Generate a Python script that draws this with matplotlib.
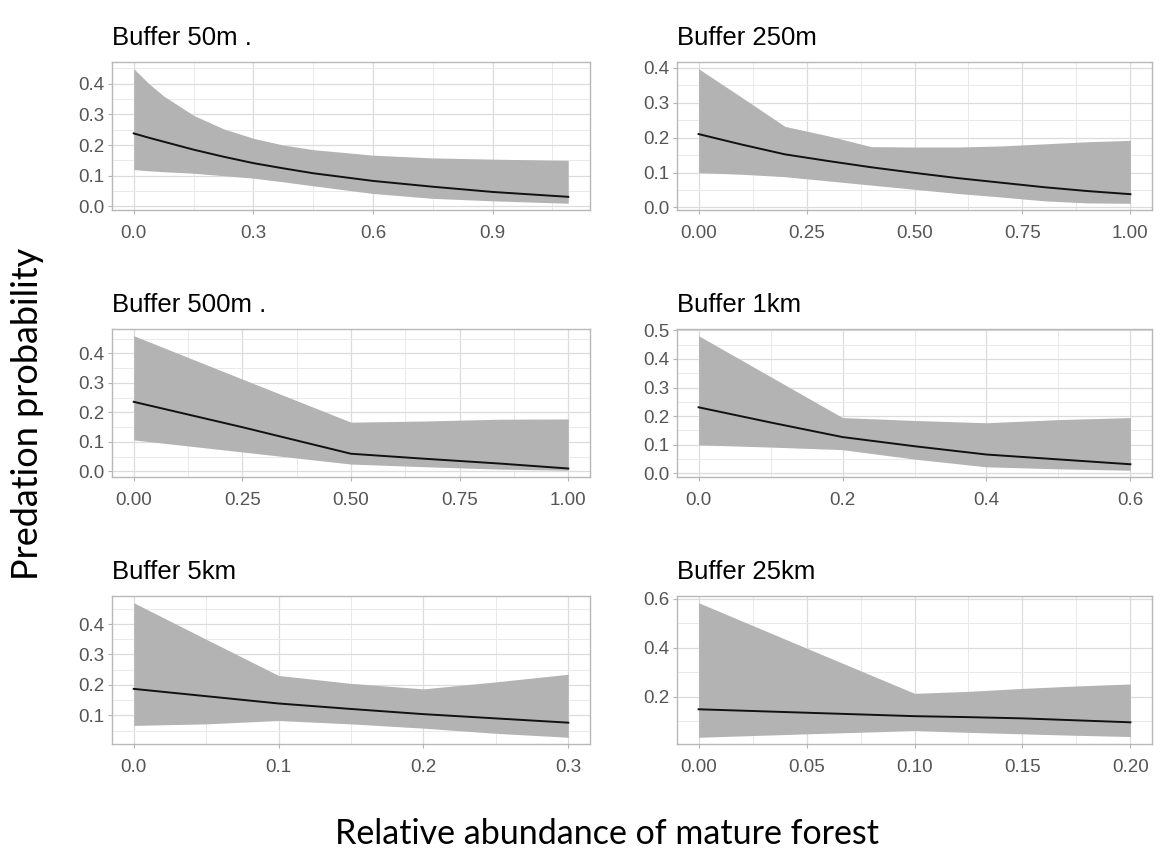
import numpy as np
import matplotlib
matplotlib.use("Agg")
import matplotlib.pyplot as plt
from matplotlib.ticker import MultipleLocator, FormatStrFormatter

# Buffer 50m
x_50m = [0.0, 0.0375, 0.075, 0.15, 0.225, 0.3, 0.375, 0.45, 0.6, 0.75, 0.9, 1.09]
hi_50m = [0.449, 0.401, 0.36, 0.297, 0.253, 0.222, 0.2, 0.185, 0.167, 0.158, 0.154, 0.15]
mean_50m = [0.238, 0.224, 0.211, 0.185, 0.162, 0.141, 0.124, 0.108, 0.083, 0.064, 0.047, 0.031]
lo_50m = [0.12, 0.116, 0.113, 0.108, 0.100, 0.092, 0.08, 0.067, 0.042, 0.026, 0.018, 0.01]

# Buffer 250m
x_250m = [0.0, 0.1, 0.2, 0.3, 0.4, 0.5, 0.6, 0.7, 0.8, 0.9, 1.0]
hi_250m = [0.397, 0.315, 0.232, 0.205, 0.174, 0.173, 0.173, 0.176, 0.182, 0.188, 0.192]
mean_250m = [0.21, 0.18, 0.152, 0.133, 0.115, 0.099, 0.084, 0.071, 0.058, 0.047, 0.038]
lo_250m = [0.10, 0.095, 0.088, 0.076, 0.064, 0.052, 0.04, 0.03, 0.019, 0.013, 0.012]

# Buffer 500m
x_500m = [0.0, 0.25, 0.5, 0.67, 0.84, 1.0]
hi_500m = [0.46, 0.313, 0.167, 0.171, 0.177, 0.178]
mean_500m = [0.236, 0.15, 0.06, 0.043, 0.027, 0.01]
lo_500m = [0.107, 0.066, 0.025, 0.016, 0.008, 0.004]

# Buffer 1km
x_1km = [0.0, 0.1, 0.2, 0.3, 0.4, 0.5, 0.6]
hi_1km = [0.481, 0.338, 0.195, 0.185, 0.177, 0.188, 0.195]
mean_1km = [0.231, 0.178, 0.127, 0.095, 0.066, 0.049, 0.032]
lo_1km = [0.10, 0.092, 0.083, 0.05, 0.023, 0.016, 0.011]

# Buffer 5km
x_5km = [0.0, 0.05, 0.1, 0.15, 0.2, 0.25, 0.3]
hi_5km = [0.47, 0.35, 0.231, 0.205, 0.187, 0.21, 0.235]
mean_5km = [0.187, 0.163, 0.139, 0.121, 0.104, 0.09, 0.076]
lo_5km = [0.067, 0.072, 0.083, 0.072, 0.058, 0.041, 0.028]

# Buffer 25km
x_25km = [0.0, 0.05, 0.1, 0.125, 0.15, 0.175, 0.2]
hi_25km = [0.583, 0.398, 0.214, 0.222, 0.234, 0.244, 0.252]
mean_25km = [0.149, 0.135, 0.121, 0.117, 0.112, 0.104, 0.096]
lo_25km = [0.035, 0.049, 0.062, 0.055, 0.049, 0.043, 0.038]

titles = ["Buffer 50m .", "Buffer 250m", "Buffer 500m .", "Buffer 1km", "Buffer 5km", "Buffer 25km"]
xticks = [[0.0, 0.3, 0.6, 0.9], [0, 0.25, 0.5, 0.75, 1.0], [0, 0.25, 0.5, 0.75, 1.0],
          [0.0, 0.2, 0.4, 0.6], [0.0, 0.1, 0.2, 0.3], [0, 0.05, 0.1, 0.15, 0.2]]
xfmt = ["%.1f", "%.2f", "%.2f", "%.1f", "%.1f", "%.2f"]
ystep = [0.1, 0.1, 0.1, 0.1, 0.1, 0.2]

panels = [(x_50m, lo_50m, mean_50m, hi_50m), (x_250m, lo_250m, mean_250m, hi_250m),
          (x_500m, lo_500m, mean_500m, hi_500m), (x_1km, lo_1km, mean_1km, hi_1km),
          (x_5km, lo_5km, mean_5km, hi_5km), (x_25km, lo_25km, mean_25km, hi_25km)]

W, H = 1160, 848
fig = plt.figure(figsize=(W / 100, H / 100), dpi=100)

# panel boxes in pixels: left, top, width, height
lefts = [112, 677]
widths = [478, 475]
tops = [62, 329, 596]
ph = 148

for i, (x, lo, mu, hi) in enumerate(panels):
    r, c = divmod(i, 2)
    ax = fig.add_axes([lefts[c] / W, 1 - (tops[r] + ph) / H, widths[c] / W, ph / H])
    ax.fill_between(x, lo, hi, color="#b3b3b3", lw=0, zorder=2)
    ax.plot(x, mu, color="#111111", lw=1.4, zorder=3)

    xmax = max(x)
    ax.set_xlim(-0.05 * xmax, 1.05 * xmax)
    ymin, ymax = min(lo), max(hi)
    pad = 0.05 * (ymax - ymin)
    ax.set_ylim(ymin - pad, ymax + pad)

    ax.set_xticks(xticks[i])
    ax.xaxis.set_major_formatter(FormatStrFormatter(xfmt[i]))
    step_x = xticks[i][1] - xticks[i][0]
    ax.xaxis.set_minor_locator(MultipleLocator(step_x / 2))
    ax.yaxis.set_major_locator(MultipleLocator(ystep[i]))
    ax.yaxis.set_minor_locator(MultipleLocator(ystep[i] / 2))
    ax.yaxis.set_major_formatter(FormatStrFormatter("%.1f"))

    ax.grid(which="major", color="#dcdcdc", lw=0.9, zorder=0)
    ax.grid(which="minor", color="#e9e9e9", lw=0.7, zorder=0)
    ax.set_axisbelow(True)
    for s in ax.spines.values():
        s.set_color("#b8b8b8")
        s.set_linewidth(1.0)
    ax.tick_params(which="major", length=3, width=0.8, color="#b3b3b3",
                   labelcolor="#555555", labelsize=13.5)
    ax.tick_params(axis="x", which="major", pad=7.5)
    ax.tick_params(axis="y", which="major", pad=2.5)
    ax.tick_params(which="minor", length=0)
    for lab in ax.get_xticklabels() + ax.get_yticklabels():
        lab.set_family("Liberation Sans")
    ax.set_title(titles[i], loc="left", fontsize=18.5, family="Liberation Sans",
                 color="black", pad=12)

fig.text(607 / W, 4 / H, "Relative abundance of mature forest", ha="center", va="baseline",
         fontsize=24.5, family="Lato")
fig.text(28 / W, 1 - 414 / H, "Predation probability", ha="center", va="center",
         rotation=90, fontsize=26, family="Lato")

fig.savefig("out.png", dpi=100, facecolor="white")
